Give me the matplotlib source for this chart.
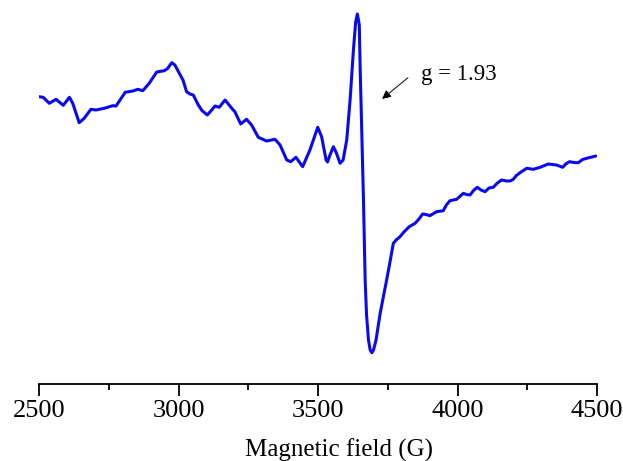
import matplotlib
matplotlib.use("Agg")
import matplotlib.pyplot as plt

# Magnetic field (G) and EPR signal (arbitrary units)
field = [2500, 2515, 2537, 2561, 2587, 2609, 2621, 2644, 2662, 2686, 2704, 2734,
         2764, 2776, 2809, 2836, 2854, 2872, 2895, 2922, 2949, 2961, 2976, 2987,
         3003, 3016, 3029, 3041, 3053, 3071, 3084, 3103, 3116, 3131, 3146, 3167,
         3191, 3202, 3223, 3244, 3262, 3286, 3316, 3346, 3364, 3388, 3402, 3421,
         3445, 3471, 3499, 3513, 3529, 3534, 3543, 3555, 3566, 3579, 3590, 3603,
         3615, 3627, 3635, 3641, 3648, 3651, 3657, 3663, 3669, 3674, 3681, 3687,
         3693, 3699, 3708, 3723, 3746, 3758, 3770, 3780, 3794, 3808, 3827, 3848,
         3862, 3875, 3887, 3901, 3925, 3949, 3960, 3973, 3997, 4021, 4032, 4045,
         4059, 4071, 4084, 4099, 4113, 4128, 4143, 4158, 4176, 4188, 4200, 4211,
         4224, 4248, 4272, 4296, 4325, 4355, 4377, 4388, 4401, 4418, 4433, 4448,
         4463, 4496]
signal = [103.3, 102.7, 96.7, 100.7, 94.7, 102.7, 96.7, 77.3, 81.7, 90.7, 90, 91.7,
          94.3, 94, 107.7, 109, 110.7, 109.3, 116.7, 128, 129.3, 131.5, 137.3, 135,
          126.7, 120, 108.3, 106, 105, 95, 89.5, 85, 89, 94, 92.7, 100,
          91.7, 88.3, 76, 80.7, 75, 62.7, 59, 60.7, 55, 40, 38.3, 42.7,
          33.3, 50, 72.7, 63.3, 40, 38, 45, 53.3, 47, 36.7, 40, 60,
          100, 150, 178, 186, 175, 133.3, 67, 0, -80, -115, -140, -150,
          -152.7, -150, -140, -113, -80, -62, -43.3, -40, -36.7, -32, -26.7, -23.3,
          -19, -14, -14.5, -15.7, -11.7, -10.7, -5, -0.7, 0.7, 6.7, 5.5, 5,
          10, 12.7, 10, 8.3, 12, 12.7, 17, 20, 19, 19, 20.7, 24.5,
          27.3, 31.7, 30.7, 32.7, 36, 35, 32.7, 36, 38.3, 37.5, 37.3, 40.5,
          41.7, 44]

xticks = [2500, 3000, 3500, 4000, 4500]
minor_ticks = [2750, 3250, 3750, 4250]
label_x = "Magnetic field (G)"
annot_text = "g = 1.93"

plt.rcParams['font.family'] = ['Liberation Serif', 'DejaVu Serif']

fig = plt.figure(figsize=(6.23, 4.61), dpi=100)
ax = fig.add_axes([39/623, (461-384)/461, 558/623, 384/461])
ax.plot(field, signal, color='#0a0af0', lw=2.2, solid_joinstyle='round',
        solid_capstyle='round')
ax.set_xlim(2500, 4500)
ax.set_ylim(-184, 200)
for s in ['top', 'right', 'left']:
    ax.spines[s].set_visible(False)
ax.spines['bottom'].set_linewidth(1.3)
ax.set_yticks([])
ax.set_xticks(xticks)
ax.set_xticks(minor_ticks, minor=True)
ax.tick_params(axis='x', which='major', direction='out', length=8.5, width=1.3,
               labelsize=19, pad=3, colors='black')
ax.tick_params(axis='x', which='minor', direction='out', length=4.3, width=1.3)
ax.set_xlabel(label_x, fontsize=18)
ax.xaxis.set_label_coords(0.538, -0.142)

ax.annotate("", xy=(3722, 200 - 100.7), xytext=(3830, 200 - 76),
            arrowprops=dict(arrowstyle='-|>', color='black', lw=0.7,
                            mutation_scale=13))
ax.text(3868, 200 - 74, annot_text, fontsize=16.5, va='center', ha='left')

fig.savefig("out.png", dpi=100)
